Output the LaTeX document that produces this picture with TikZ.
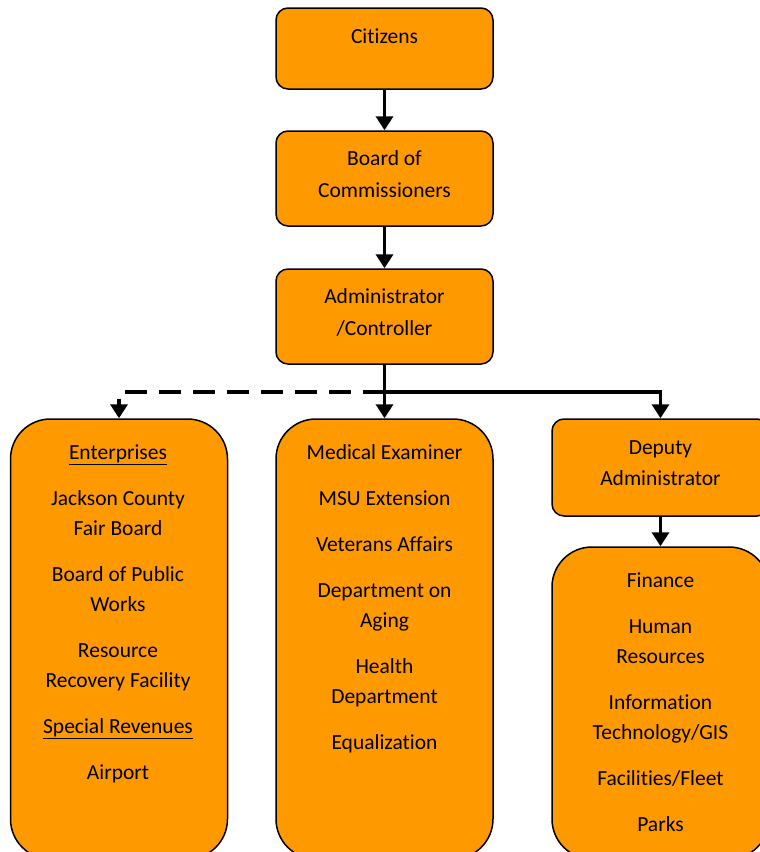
\documentclass[tikz,border=0pt]{standalone}
\usepackage{fontspec}
\setmainfont[Ligatures=NoCommon]{Carlito}
\usetikzlibrary{arrows.meta}
\definecolor{boxorange}{HTML}{FF9900}
\newcommand{\myul}[1]{\underline{#1}}
\tikzset{
  smallbox/.style={draw=black, line width=1.5pt, fill=boxorange, rounded corners=12pt, minimum width=217pt, inner sep=0pt},
  bigbox/.style={draw=black, line width=1.5pt, fill=boxorange, rounded corners=40pt, minimum width=217pt, inner sep=0pt},
  txt/.style={anchor=base, inner sep=0pt, font=\fontsize{21.5}{30}\selectfont},
  conn/.style={line width=3.5pt, -{Triangle[width=17pt,length=14pt]}},
  dconn/.style={conn, dash pattern=on 22pt off 12pt},
}
\begin{document}
\begin{tikzpicture}[x=1pt, y=-1pt]
\useasboundingbox (0,0) rectangle (760,852);
\clip (0,0) rectangle (760,852);
% boxes
\node[smallbox, minimum height=81pt] (cit) at (384.5,48.5) {};
\node[smallbox, minimum height=95pt] (boc) at (384.5,178.5) {};
\node[smallbox, minimum height=95pt] (adm) at (384.5,316.5) {};
\node[bigbox, minimum height=440pt] (ent) at (119,639) {};
\node[bigbox, minimum height=440pt] (mid) at (384.5,639) {};
\node[smallbox, minimum height=97pt] (dep) at (660.5,467.5) {};
\node[bigbox, minimum height=312pt] (fin) at (660.5,703) {};
% connectors
\draw[conn] (cit.south) -- (boc.north);
\draw[conn] (boc.south) -- (adm.north);
\coordinate (split) at (384.5,392);
\draw[conn] (adm.south) -- (mid.north);
\draw[dconn] (split) -| (ent.north);
\draw[conn] (split) -| (dep.north);
\draw[conn] (dep.south) -- (fin.north);
% texts
\node[txt] (t1) at (384.5,43) {Citizens};
\node[txt] (t2) at (384.5,165) {Board of};
\node[txt] (t3) at (384.5,197) {Commissioners};
\node[txt] (t4) at (384.5,303) {Administrator};
\node[txt] (t5) at (384.5,335) {/Controller};
% left
\node[txt] (l1) at (118,459) {\myul{Enterprises}};
\node[txt] (l2) at (118,505) {Jackson County};
\node[txt] (l3) at (118,535) {Fair Board};
\node[txt] (l4) at (118,581) {Board of Public};
\node[txt] (l5) at (118,611) {Works};
\node[txt] (l6) at (118,657) {Resource};
\node[txt] (l7) at (118,687) {Recovery Facility};
\node[txt] (l8) at (118,733) {\myul{Special Revenues}};
\node[txt] (l9) at (118,779) {Airport};
% middle
\node[txt] (m1) at (384.5,459) {Medical Examiner};
\node[txt] (m2) at (384.5,505) {MSU Extension};
\node[txt] (m3) at (384.5,551) {Veterans Affairs};
\node[txt] (m4) at (384.5,597) {Department on};
\node[txt] (m5) at (384.5,627) {Aging};
\node[txt] (m6) at (384.5,673) {Health};
\node[txt] (m7) at (384.5,703) {Department};
\node[txt] (m8) at (384.5,749) {Equalization};
% right
\node[txt] (d1) at (660.5,454) {Deputy};
\node[txt] (d2) at (660.5,485) {Administrator};
\node[txt] (r1) at (660.5,587) {Finance};
\node[txt] (r2) at (660.5,633) {Human};
\node[txt] (r3) at (660.5,663) {Resources};
\node[txt] (r4) at (660.5,709) {Information};
\node[txt] (r5) at (660.5,739) {Technology/GIS};
\node[txt] (r6) at (660.5,785) {Facilities/Fleet};
\node[txt] (r7) at (660.5,831) {Parks};
\end{tikzpicture}
\end{document}
